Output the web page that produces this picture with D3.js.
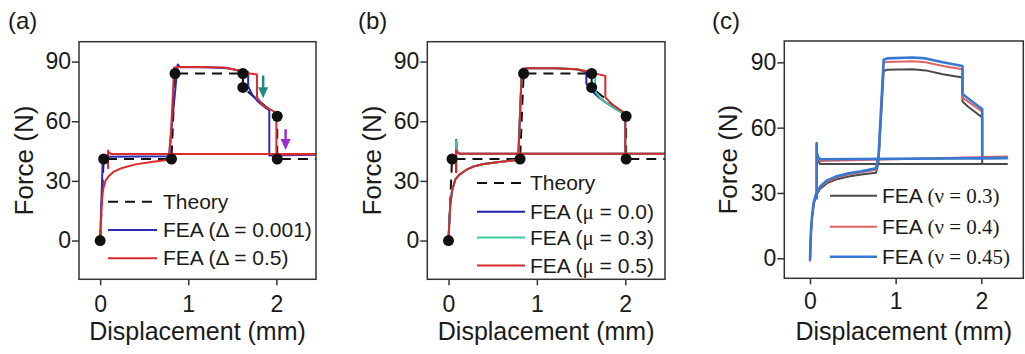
<!DOCTYPE html>
<html>
<head>
<meta charset="utf-8">
<script src="https://cdn.jsdelivr.net/npm/d3@7"></script>
<style>
  html, body { margin: 0; padding: 0; background: #fff; }
  svg { display: block; }
  text { font-family: "Liberation Sans", Arial, sans-serif; fill: #1a1a1a; }
</style>
</head>
<body>
<div id="chart"></div>
<script>
// ---- tick values ----
const xTicks = [0, 1, 2];
const yTicks = [0, 30, 60, 90];

// ---- theory (panels a, b) ----
const theoryX = [0, 0.04, 0.81, 0.85, 1.62, 1.62, 2.01, 2.01, 2.6];
const theoryY = [0, 41, 41, 84, 84, 77, 62.5, 41, 41];

// ---- panel (a): mesh size ----
const aBlueX = [0, 0.03, 0.06, 0.78, 0.88, 0.91, 1.2, 1.45, 1.6, 1.68, 1.68, 1.73, 1.8, 1.87, 1.92, 1.92, 2.6];
const aBlueY = [0, 41.8, 42.1, 42.4, 88.5, 87.2, 87.2, 86.6, 85.3, 84.6, 77.5, 73, 69.5, 67, 65.5, 42.8, 43.2];
const aRedX = [0, 0.012, 0.02, 0.035, 0.06, 0.1, 0.15, 0.25, 0.4, 0.6, 0.76, 0.79, 0.84, 0.88, 1.1, 1.4, 1.5, 1.6, 1.7, 1.78, 1.78, 1.85, 1.95, 2.0, 2.0, 2.6, 0.13, 0.1, 0.09, 0.09];
const aRedY = [0, 12, 20, 26, 30, 32.5, 34.5, 36.5, 38.3, 39.6, 40.5, 42, 87, 87.3, 87.3, 87, 86.3, 85, 84, 83.5, 72, 68, 65.5, 64, 43.3, 43.5, 43.5, 44.2, 45.2, 36];
// annotation arrows in (a): [x, yStart, yEnd]
const arrowTeal = [1.85, 83, 71.5];
const arrowPurple = [2.105, 56, 45.5];

// ---- panel (b): friction ----
const bLoadX = [0, 0.01, 0.02, 0.04, 0.076, 0.12, 0.2, 0.28, 0.4, 0.55, 0.7, 0.775, 0.79, 0.83, 0.9, 1.2, 1.45];
const bLoadY = [0, 10, 18, 25, 30.6, 33, 35.5, 37.2, 38.5, 39.4, 40.1, 40.5, 42.5, 86.3, 86.6, 86.6, 86.1];
const bBlueTailX = [1.52, 1.56, 1.56, 1.62, 1.7, 1.8, 1.9, 2.0, 2.0, 2.6, 0.13, 0.1, 0.087, 0.087];
const bBlueTailY = [85.2, 84.5, 79, 75.5, 72, 68.8, 66, 63.5, 43.6, 43.6, 43.6, 44.5, 50.5, 34];
const bTealTailX = [1.55, 1.62, 1.66, 1.66, 1.72, 1.8, 1.9, 2.0, 2.0, 2.6, 0.13, 0.1, 0.087, 0.087];
const bTealTailY = [85.3, 84.5, 84.2, 75, 71.5, 68.8, 66, 63.5, 43.6, 43.6, 43.6, 44.5, 50, 34];
const bRedTailX = [1.55, 1.64, 1.775, 1.775, 1.85, 1.95, 2.0, 2.0, 2.6, 0.13, 0.1, 0.085, 0.085];
const bRedTailY = [85.3, 84.2, 82.8, 72, 68.5, 65.5, 64, 43.6, 43.6, 43.6, 44.2, 45.5, 34];

// ---- panel (c): Poisson ratio ----
const cX = [0, 0.005, 0.012, 0.025, 0.045, 0.075, 0.12, 0.2, 0.3, 0.45, 0.6, 0.77, 0.8, 0.86, 0.9, 1.2, 1.35, 1.55, 1.78, 1.78, 1.85, 1.95, 2.01, 2.01, 2.3, 0.12, 0.095, 0.08, 0.078, 0.078];
const cBlackY = [-1, 5, 12, 19, 25, 29, 32, 34.5, 36.2, 37.6, 38.5, 39.3, 44, 86, 86.6, 86.8, 86.3, 84.5, 83, 72, 69.5, 66.5, 64.7, 43.3, 43.3, 43.3, 44.5, 47, 52, 28];
const cRedY = [-1.5, 5, 12, 19.5, 25.5, 29.5, 32.6, 35.2, 37, 38.5, 39.5, 40.6, 46, 89.8, 90.2, 90.5, 90, 88.3, 86.8, 73.8, 71.8, 69, 67.3, 46.5, 46.8, 44.7, 45.8, 48, 53, 28];
const cBlueY = [-1, 6, 13, 20, 26, 30, 33, 35.8, 37.5, 39, 40, 41.3, 47, 91.2, 91.8, 92.2, 91.8, 90, 88.3, 75.5, 73.3, 70.3, 68.5, 45.9, 46, 45.5, 46.5, 48.5, 52.8, 27];

const W = 1025, H = 354;
const svg = d3.select("#chart").append("svg").attr("width", W).attr("height", H);
svg.append("rect").attr("width", W).attr("height", H).attr("fill", "#fff");

const sans = "Liberation Sans, Arial, sans-serif";
const serif = "Liberation Serif, Times New Roman, serif";

const theory = { x: theoryX, y: theoryY, color: "#111", width: 2, dash: "10,7", parts: [["Theory", sans]] };

const panels = [
  {
    id: "a", label: "(a)", labelX: 8,
    left: 79, right: 316, top: 41.7, bottom: 279.3,
    xDomain: [-0.24, 2.45], yDomain: [-19.5, 100], xPad: 10, yTitleX: 33,
    legend: { x0: 108, x1: 157, tx: 163, y: [201.7, 230, 258.3] },
    series: [
      theory,
      { x: aBlueX, y: aBlueY, color: "#2b2bb8", width: 2, parts: [["FEA (\u0394 = 0.001)", sans]] },
      { x: aRedX, y: aRedY, color: "#dd2a2a", width: 2, parts: [["FEA (\u0394 = 0.5)", sans]] }
    ],
    dots: true,
    arrows: [{ a: arrowTeal, color: "#1f8c84" }, { a: arrowPurple, color: "#9a2fd0" }]
  },
  {
    id: "b", label: "(b)", labelX: 358,
    left: 427.3, right: 665, top: 41.7, bottom: 279.3,
    xDomain: [-0.24, 2.45], yDomain: [-19.5, 100], xPad: 10, yTitleX: 381,
    legend: { x0: 477, x1: 525, tx: 530, y: [183, 211.7, 237.5, 265.5] },
    series: [
      theory,
      { x: bLoadX.concat(bBlueTailX), y: bLoadY.concat(bBlueTailY), color: "#2222a8", width: 2, parts: [["FEA (", sans], ["\u03bc", serif], [" = 0.0)", sans]] },
      { x: bLoadX.concat(bTealTailX), y: bLoadY.concat(bTealTailY), color: "#3ec9a0", width: 2, parts: [["FEA (", sans], ["\u03bc", serif], [" = 0.3)", sans]] },
      { x: bLoadX.concat(bRedTailX), y: bLoadY.concat(bRedTailY), color: "#d42a2a", width: 2, parts: [["FEA (", sans], ["\u03bc", serif], [" = 0.5)", sans]] }
    ],
    dots: true,
    arrows: []
  },
  {
    id: "c", label: "(c)", labelX: 712,
    left: 784.3, right: 1023.3, top: 41, bottom: 278.3,
    xDomain: [-0.3, 2.49], yDomain: [-9.2, 99.8], xPad: 8, yTitleX: 737,
    legend: { x0: 830, x1: 877, tx: 882, y: [195.7, 226.7, 256.7] },
    series: [
      { x: cX, y: cBlackY, color: "#4a4a4a", width: 2, parts: [["FEA ", sans], ["(\u03bd = 0.3)", serif]] },
      { x: cX, y: cRedY, color: "#e06262", width: 2, parts: [["FEA ", sans], ["(\u03bd = 0.4)", serif]] },
      { x: cX, y: cBlueY, color: "#3878d0", width: 2.6, parts: [["FEA ", sans], ["(\u03bd = 0.45)", serif]] }
    ],
    dots: false,
    arrows: []
  }
];

function styleAxis(sel) {
  sel.select(".domain").remove();
  sel.selectAll(".tick line").attr("stroke", "#333").attr("stroke-width", 1.5);
  sel.selectAll(".tick text").attr("fill", "#1a1a1a").style("font-size", "23px").style("font-family", sans);
}

function drawPanel(p) {
  const x = d3.scaleLinear().domain(p.xDomain).range([p.left, p.right]);
  const y = d3.scaleLinear().domain(p.yDomain).range([p.bottom, p.top]);
  const g = svg.append("g");

  g.append("clipPath").attr("id", "clip-" + p.id)
    .append("rect")
    .attr("x", p.left).attr("y", p.top)
    .attr("width", p.right - p.left).attr("height", p.bottom - p.top);

  g.append("g").attr("transform", `translate(0,${p.bottom})`)
    .call(d3.axisBottom(x).tickValues(xTicks).tickFormat(d3.format("d")).tickSize(6).tickPadding(p.xPad))
    .call(styleAxis);
  g.append("g").attr("transform", `translate(${p.left},0)`)
    .call(d3.axisLeft(y).tickValues(yTicks).tickFormat(d3.format("d")).tickSize(7).tickPadding(1))
    .call(styleAxis);

  const plot = g.append("g").attr("clip-path", `url(#clip-${p.id})`);
  const line = d3.line().x(d => x(d[0])).y(d => y(d[1]));

  p.series.forEach(s => {
    plot.append("path")
      .datum(d3.zip(s.x, s.y))
      .attr("fill", "none")
      .attr("stroke", s.color)
      .attr("stroke-width", s.width)
      .attr("stroke-dasharray", s.dash || null)
      .attr("stroke-linejoin", "round")
      .attr("d", line);
  });

  if (p.dots) {
    plot.selectAll("circle.pt")
      .data(d3.zip(theoryX, theoryY).slice(0, -1))
      .join("circle")
      .attr("class", "pt")
      .attr("cx", d => x(d[0])).attr("cy", d => y(d[1]))
      .attr("r", 5.5).attr("fill", "#111");
  }

  p.arrows.forEach(ar => {
    const [ax, y0, y1] = ar.a;
    const px = x(ax), py0 = y(y0), py1 = y(y1);
    plot.append("line")
      .attr("x1", px).attr("x2", px).attr("y1", py0).attr("y2", py1 - 9)
      .attr("stroke", ar.color).attr("stroke-width", 2.5);
    plot.append("path")
      .attr("d", `M${px - 5},${py1 - 11}L${px + 5},${py1 - 11}L${px},${py1}Z`)
      .attr("fill", ar.color);
  });

  // frame
  g.append("rect")
    .attr("x", p.left).attr("y", p.top)
    .attr("width", p.right - p.left).attr("height", p.bottom - p.top)
    .attr("fill", "none").attr("stroke", "#333").attr("stroke-width", 1.5);

  // legend
  p.series.forEach((s, i) => {
    const ly = p.legend.y[i];
    g.append("line")
      .attr("x1", p.legend.x0).attr("x2", p.legend.x1)
      .attr("y1", ly).attr("y2", ly)
      .attr("stroke", s.color).attr("stroke-width", s.width)
      .attr("stroke-dasharray", s.dash || null);
    const t = g.append("text")
      .attr("x", p.legend.tx).attr("y", ly + 7)
      .style("font-size", "21px");
    s.parts.forEach(part => {
      t.append("tspan").text(part[0]).style("font-family", part[1]);
    });
  });

  // axis titles
  g.append("text")
    .attr("x", (p.left + p.right) / 2).attr("y", 340)
    .attr("text-anchor", "middle")
    .style("font-size", "25px")
    .text("Displacement (mm)");
  g.append("text")
    .attr("transform", `translate(${p.yTitleX},${(p.top + p.bottom) / 2}) rotate(-90)`)
    .attr("text-anchor", "middle")
    .style("font-size", "26px")
    .text("Force (N)");

  // panel label
  g.append("text")
    .attr("x", p.labelX).attr("y", 29)
    .style("font-size", "24px")
    .text(p.label);
}

panels.forEach(drawPanel);
</script>
</body>
</html>
